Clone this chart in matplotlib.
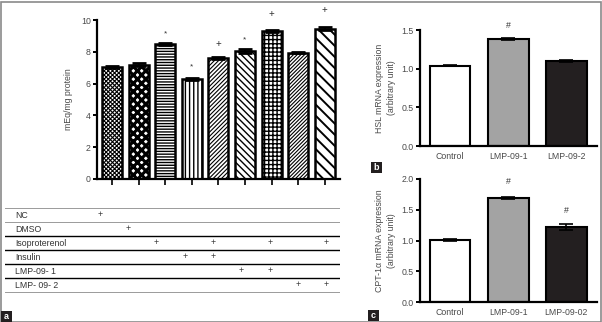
import matplotlib
matplotlib.use("Agg")
import matplotlib.pyplot as plt
from matplotlib.patches import Rectangle

plt.rcParams["font.family"] = ["Liberation Sans", "DejaVu Sans"]
plt.rcParams["hatch.linewidth"] = 0.9

# panel a: lipolysis
A_VALUES = [7.05, 7.2, 8.5, 6.3, 7.6, 8.05, 9.3, 7.95, 9.45]
A_ERRORS = [0.07, 0.08, 0.06, 0.07, 0.06, 0.12, 0.05, 0.05, 0.1]
A_MARKS = ["", "", "*", "*", "+", "*", "+", "", "+"]
A_MARK_Y = [None, None, 9.1, 7.05, 8.5, 8.75, 10.4, None, 10.6]
A_HATCHES = ["xxxxxxxx", "xxxx", "------", "||||", "////////", "\\\\\\\\\\", "++++", "/////////", "\\\\\\"]
A_HATCH_LW = [0.8, 2.2, 1.0, 1.0, 0.8, 1.0, 1.0, 0.8, 1.4]
A_YTICKS = [0, 2, 4, 6, 8, 10]

TABLE_ROWS = ["NC", "DMSO", "Isoproterenol", "Insulin", "LMP-09- 1", "LMP- 09- 2"]
TABLE_PLUS = [[0], [1], [2, 4, 6, 8], [3, 4], [5, 6], [7, 8]]

# panel b: HSL
B_LABELS = ["Control", "LMP-09-1", "LMP-09-2"]
B_VALUES = [1.04, 1.38, 1.1]
B_ERRORS = [0.01, 0.015, 0.012]
B_MARKS = ["", "#", ""]
B_MARK_Y = [None, 1.56, None]

# panel c: CPT-1a
C_LABELS = ["Control", "LMP-09-1", "LMP-09-02"]
C_VALUES = [1.01, 1.69, 1.22]
C_ERRORS = [0.02, 0.015, 0.045]
C_MARKS = ["", "#", "#"]
C_MARK_Y = [None, 1.96, 1.48]

BAR_COLORS = ["white", "#a3a3a3", "#231f20"]
TICK_COLOR = "#4a4a4a"
FS = 6.3

fig = plt.figure(figsize=(6.02, 3.22), dpi=100)
W, H = 602.0, 322.0


def px_axes(left, top, right, bottom):
    return fig.add_axes([left / W, 1 - bottom / H, (right - left) / W, (bottom - top) / H])


def style_axes(ax):
    for s in ("top", "right"):
        ax.spines[s].set_visible(False)
    for s in ("left", "bottom"):
        ax.spines[s].set_linewidth(1.6)
    ax.tick_params(axis="y", length=3, width=1.4, labelsize=FS, labelcolor=TICK_COLOR, pad=1.5)
    ax.tick_params(axis="x", length=4, width=1.2, labelsize=FS, labelcolor=TICK_COLOR, pad=2)


# ---- panel a
ax = px_axes(97, 20, 340, 179)
xs = list(range(len(A_VALUES)))
for i, (v, e, h, hlw) in enumerate(zip(A_VALUES, A_ERRORS, A_HATCHES, A_HATCH_LW)):
    bars = ax.bar(i, v, width=0.75, color="white", edgecolor="black", linewidth=1.8, hatch=h, zorder=2)
    for b in bars:
        if hasattr(b, "set_hatch_linewidth"):
            b.set_hatch_linewidth(hlw)
    ax.errorbar(i, v, yerr=e, fmt="none", ecolor="black", elinewidth=1.5, capsize=5, capthick=2.0, zorder=3)
for i, (m, my) in enumerate(zip(A_MARKS, A_MARK_Y)):
    if m:
        ax.text(i, my, m, ha="center", va="center", fontsize=6 if m == "*" else 7, color="#333")
ax.set_xlim(-0.56, 8.57)
ax.set_ylim(0, 10)
ax.set_yticks(A_YTICKS)
ax.set_xticks(xs)
ax.set_xticklabels([])
style_axes(ax)
ax.set_ylabel("mEq/mg protein", fontsize=FS, color=TICK_COLOR, labelpad=6)

# ---- table under panel a
tab = px_axes(5, 200, 340, 300)
tab.set_xlim(5, 340)
tab.set_ylim(300, 200)
tab.axis("off")
row_top = 208.0
row_h = 14.0
col_x0 = 100.0
col_step = 28.3
for k in range(len(TABLE_ROWS) + 1):
    y = row_top + k * row_h
    gray = k in (0, 1, len(TABLE_ROWS))
    tab.plot([5, 340], [y, y], color="#9a9a9a" if gray else "black", lw=0.7 if gray else 1.0)
for r, (name, cols) in enumerate(zip(TABLE_ROWS, TABLE_PLUS)):
    yc = row_top + (r + 0.5) * row_h
    tab.text(15, yc, name, ha="left", va="center", fontsize=FS, color="#333")
    for c in cols:
        tab.text(col_x0 + c * col_step, yc, "+", ha="center", va="center", fontsize=FS, color="#333")


def small_panel(ax, labels, values, errors, marks, mark_y, ylim, yticks, ylabel):
    for i, (v, e, col) in enumerate(zip(values, errors, BAR_COLORS)):
        ax.bar(i, v, width=0.7, color=col, edgecolor="black", linewidth=1.5, zorder=2)
        ax.errorbar(i, v, yerr=e, fmt="none", ecolor="black", elinewidth=1.2, capsize=5, capthick=1.2, zorder=3)
    for i, (m, my) in enumerate(zip(marks, mark_y)):
        if m:
            ax.text(i, my, m, ha="center", va="center", fontsize=FS, color="#333")
    ax.set_xlim(-0.52, 2.53)
    ax.set_ylim(*ylim)
    ax.set_yticks(yticks)
    ax.set_yticklabels([f"{t:.1f}" for t in yticks])
    ax.set_xticks(range(len(labels)))
    ax.set_xticklabels(labels)
    style_axes(ax)
    ax.tick_params(axis="x", length=0, pad=4)
    ax.set_ylabel(ylabel, fontsize=FS, color=TICK_COLOR, labelpad=4, linespacing=1.4)


axb = px_axes(420, 30, 597, 146)
small_panel(axb, B_LABELS, B_VALUES, B_ERRORS, B_MARKS, B_MARK_Y, (0, 1.5),
            [0.0, 0.5, 1.0, 1.5], "HSL mRNA expression\n(arbitrary unit)")

axc = px_axes(420, 179, 597, 302)
small_panel(axc, C_LABELS, C_VALUES, C_ERRORS, C_MARKS, C_MARK_Y, (0, 2.0),
            [0.0, 0.5, 1.0, 1.5, 2.0], "CPT-1\u03b1 mRNA expression\n(arbitrary unit)")

# frame and panel letters
fig.add_artist(Rectangle((0.5 / W, 0.5 / H), 1 - 2 / W, 1 - 2 / H, transform=fig.transFigure,
                         fill=False, edgecolor="#8a8a8a", lw=1.2))
for lbl, (x0, y0) in {"a": (1, 311), "b": (371, 162), "c": (368, 310)}.items():
    fig.add_artist(Rectangle((x0 / W, 1 - (y0 + 11) / H), 11 / W, 11 / H, transform=fig.transFigure,
                             facecolor="#231f20", edgecolor="none"))
    fig.text((x0 + 5.5) / W, 1 - (y0 + 5.5) / H, lbl, ha="center", va="center",
             fontsize=6.5, color="white", fontweight="bold")

fig.savefig("out.png", dpi=100)
